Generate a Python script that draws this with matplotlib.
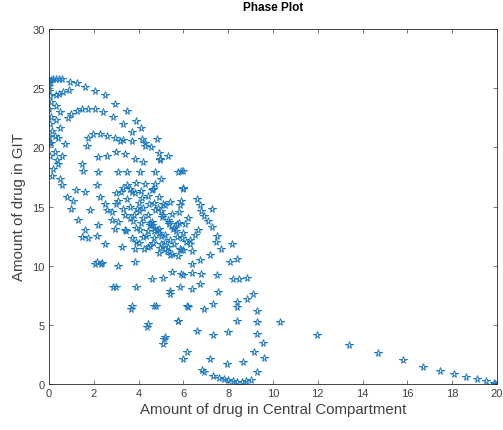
import matplotlib
matplotlib.use("Agg")
import matplotlib.pyplot as plt

plt.rcParams['font.family'] = ['Liberation Sans', 'DejaVu Sans']

# Amount of drug in central compartment (x) and in GIT (y)
# tail trajectory starting at (20, 0)
tail_x = [20.0, 19.9, 19.85, 19.5, 19.1, 18.6, 18.1, 17.45, 16.7, 15.8, 14.7, 13.4, 11.95, 10.3]
tail_y = [0.0, 0.02, 0.05, 0.22, 0.42, 0.62, 0.85, 1.13, 1.46, 2.0, 2.6, 3.3, 4.1, 5.2]

# left column near the GIT axis
left_x = [0.0, 0.05, 0.1, 0.2, 0.3, 0.45, 0.6, 0.0, 0.02, 0.05, 0.1, 0.0, 0.1, 0.05, 0.15, 0.0,
          0.1, 0.27, 0.05, 0.4, 0.2, 0.49, 0.15, 0.3, 0.45, 0.64, 0.3, 0.5, 0.3, 0.71, 0.5, 0.4,
          0.6, 0.04, 0.9, 0.25, 0.35]
left_y = [25.5, 25.6, 25.7, 25.8, 25.8, 25.8, 25.75, 25.2, 24.8, 24.3, 23.8, 23.2, 22.6, 22.0,
          21.4, 20.9, 20.4, 19.6, 19.3, 18.6, 18.2, 17.3, 17.6, 24.4, 24.5, 24.65, 23.5, 23.0,
          22.3, 20.3, 21.6, 20.8, 19.3, 20.4, 24.85, 21.0, 18.9]

# upper-right arcs
upper_x = [0.94, 1.24, 1.6, 2.05, 2.5, 2.95, 3.47, 3.9, 4.1, 4.8, 4.3, 5.3, 5.9,
           0.86, 1.0, 1.24, 1.46, 1.75, 2.05, 2.42, 2.87, 3.3, 3.7, 4.14, 4.55,
           1.75, 1.98, 2.28, 2.58, 2.95, 3.3, 3.7, 4.3,
           1.68, 2.2, 2.57, 3.0, 3.4, 3.84, 4.2, 4.96, 3.17,
           1.46, 1.52, 2.2, 3.1, 3.5, 4.06, 4.73, 5.0, 4.9, 4.96, 5.77, 6.0,
           2.13, 1.6, 2.28, 3.0, 2.5, 4.73, 4.63, 6.0, 6.0]
upper_y = [25.5, 25.4, 25.1, 24.8, 24.4, 23.7, 23.1, 22.2, 21.6, 20.7, 20.1, 19.3, 18.0,
           22.5, 22.8, 23.1, 23.2, 23.2, 23.2, 23.0, 22.6, 22.0, 21.3, 20.7, 20.0,
           20.8, 21.1, 21.1, 21.0, 20.8, 20.6, 20.5, 20.4,
           20.1, 19.2, 19.3, 19.6, 19.4, 19.0, 18.8, 19.0, 20.5,
           18.6, 18.0, 17.9, 17.9, 17.9, 17.9, 17.9, 17.3, 19.5, 18.9, 17.9, 18.0,
           16.8, 16.2, 15.8, 16.1, 15.2, 16.9, 16.5, 16.5, 16.6]

# right side of the cloud
right_x = [5.4, 5.9, 5.85, 6.6, 6.74, 6.8, 7.26, 6.9, 7.1, 7.26, 7.5, 6.65, 6.07, 5.7, 7.7,
           8.16, 7.2, 8.1, 6.4, 6.74, 6.0, 6.4, 5.1, 8.4, 8.85, 9.1, 5.85, 5.2, 6.3, 7.45]
right_y = [15.4, 15.5, 15.1, 15.6, 15.1, 14.6, 14.8, 14.2, 13.8, 13.3, 12.5, 13.0, 13.5, 13.5,
           11.4, 11.8, 10.9, 10.3, 10.1, 10.5, 11.3, 11.2, 15.2, 10.6, 9.0, 7.6, 11.4, 11.4,
           12.2, 12.0]

# lower-left arcs
lower_x = [0.79, 1.07, 1.0, 1.3, 1.46, 1.74, 2.13, 2.5, 2.13, 2.35, 2.57, 1.83, 2.2, 2.8, 2.95,
           3.24, 3.84, 4.4, 2.86, 3.0, 3.66, 3.72, 4.36, 4.42, 5.1, 5.15, 6.0, 2.05, 2.3, 3.84,
           3.1, 3.9, 4.7, 5.76, 4.6, 5.1, 5.4, 5.85, 6.2, 5.5, 5.9, 1.2, 0.6, 1.6]
lower_y = [15.8, 15.5, 14.8, 13.9, 12.4, 12.3, 12.5, 11.8, 10.3, 10.2, 14.7, 14.7, 13.4, 13.9,
           13.1, 11.6, 11.4, 11.6, 8.2, 8.2, 6.3, 6.6, 4.8, 5.1, 3.4, 3.8, 2.1, 10.1, 10.1, 10.3,
           10.0, 8.2, 6.6, 5.3, 8.9, 9.0, 7.9, 8.2, 6.5, 9.5, 9.3, 16.4, 16.8, 13.0]

# bottom area
bottom_x = [6.15, 6.9, 7.3, 7.2, 7.95, 8.65, 9.27, 9.6, 9.15, 9.56, 9.3, 9.3, 9.27, 8.85, 8.4,
            8.4, 8.4, 8.5, 8.2, 7.55, 7.3, 6.9, 8.0, 7.3, 6.6, 5.77, 5.18, 6.15, 5.4, 6.4, 6.74,
            7.5, 6.8, 6.4, 6.0, 4.78, 7.6, 7.8, 8.0, 8.2, 8.4, 8.6, 8.8, 9.0, 6.85]
bottom_y = [2.7, 1.04, 0.7, 2.1, 1.7, 1.9, 1.0, 2.2, 2.7, 3.5, 4.2, 5.2, 6.2, 7.2, 6.96, 6.5,
            5.35, 8.9, 8.9, 7.8, 6.8, 6.3, 4.4, 4.1, 4.5, 5.35, 4.0, 6.6, 7.6, 8.0, 8.45, 9.2,
            9.3, 9.4, 9.2, 6.6, 0.5, 0.4, 0.3, 0.25, 0.2, 0.2, 0.25, 0.3, 1.2]

# dense core around the equilibrium
core_x = [3.5, 3.9, 4.3, 4.6, 4.9, 5.2, 5.5, 5.8, 6.0, 6.1, 5.9, 3.2, 3.1, 3.3, 3.6, 3.9, 4.2,
          4.5, 4.9, 5.4, 3.7, 4.1, 4.4, 4.7, 5.0, 5.3, 5.55, 5.7, 5.6, 3.5, 3.6, 3.8, 4.1, 4.4,
          4.7, 5.0, 5.3, 4.0, 4.2, 4.4, 4.6, 4.9, 5.2, 5.4, 4.0, 4.2, 4.5, 4.7, 5.0, 5.2, 4.6,
          4.7, 4.8, 4.5, 4.9, 3.0, 2.8, 3.1, 3.4, 3.7, 4.0, 5.8, 6.2, 6.5, 6.3, 3.3, 3.6, 3.85,
          4.15, 4.45, 4.75, 5.05, 5.35, 5.65, 5.95, 3.4, 3.75, 4.05, 4.35, 4.65, 4.95, 5.25,
          5.5, 5.75, 4.85, 5.1, 5.35, 5.6, 3.9, 4.25, 3.45, 3.95]
core_y = [16.8, 17.0, 16.9, 16.4, 15.8, 15.1, 14.4, 13.6, 12.8, 12.0, 11.3, 16.2, 15.5, 14.8,
          14.0, 13.2, 12.4, 11.7, 11.1, 10.9, 16.2, 16.3, 15.9, 15.3, 14.6, 13.9, 13.1, 12.4,
          11.8, 15.6, 15.0, 14.3, 13.6, 12.9, 12.3, 11.8, 11.6, 15.3, 14.9, 14.3, 13.7, 13.1,
          12.6, 12.2, 14.6, 14.0, 13.4, 12.9, 12.5, 12.0, 13.4, 13.2, 13.0, 13.6, 12.8, 15.2,
          14.5, 13.7, 13.0, 12.3, 11.9, 14.5, 14.0, 12.6, 11.8, 16.6, 16.5, 16.1, 15.7, 15.2,
          14.7, 14.1, 13.5, 12.9, 12.3, 14.3, 13.8, 13.0, 12.5, 11.9, 11.5, 11.2, 11.0, 10.8,
          14.9, 14.3, 13.7, 13.2, 12.0, 11.4, 12.9, 14.8]

x_ticks = [0, 2, 4, 6, 8, 10, 12, 14, 16, 18, 20]
y_ticks = [0, 5, 10, 15, 20, 25, 30]

xs = tail_x + left_x + upper_x + right_x + lower_x + bottom_x + core_x
ys = tail_y + left_y + upper_y + right_y + lower_y + bottom_y + core_y

fig = plt.figure(figsize=(5.03, 4.31), dpi=100)
ax = fig.add_axes([49 / 503, 1 - 385 / 431, 448 / 503, 355 / 431])
ax.plot(xs, ys, linestyle='none', marker='*', markersize=5.5,
        markerfacecolor='none', markeredgecolor='#1f7cc4', markeredgewidth=0.7)

ax.set_xlim(0, 20)
ax.set_ylim(0, 30)
ax.set_xticks(x_ticks)
ax.set_yticks(y_ticks)
ax.tick_params(direction='in', top=True, right=True, length=3, width=0.5,
               labelsize=8, colors='#404040', pad=3)
for s in ax.spines.values():
    s.set_linewidth(0.6)
    s.set_color('#262626')
ax.set_title('Phase Plot', fontsize=8.5, fontweight='bold', color='#000000', pad=14)
ax.set_xlabel('Amount of drug in Central Compartment', fontsize=10.8, color='#404040', labelpad=3)
ax.set_ylabel('Amount of drug in GIT', fontsize=10.8, color='#404040', labelpad=5)

fig.savefig('out.png', dpi=100)
